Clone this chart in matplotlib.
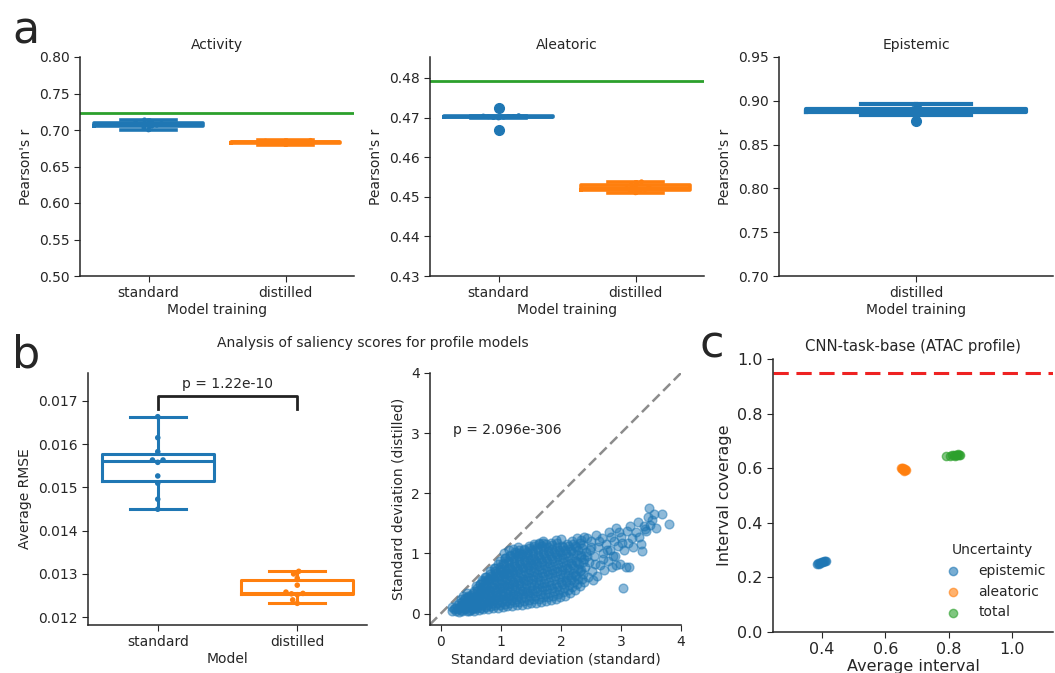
import warnings
warnings.filterwarnings("ignore")
import matplotlib
matplotlib.use("Agg")
import matplotlib.pyplot as plt
import seaborn as sns
import numpy as np

# ---------------- data ----------------
training_cats = ["standard", "distilled"]
activity_standard = [0.7001, 0.7030, 0.7052, 0.7065, 0.7078, 0.7083, 0.7090, 0.7102, 0.7120, 0.7139]
activity_distilled = [0.6800, 0.6815, 0.6822, 0.6828, 0.6832, 0.6835, 0.6838, 0.6842, 0.6850, 0.6858]
activity_reference = 0.7239

aleatoric_standard = [0.4668, 0.4699, 0.4700, 0.4701, 0.4702, 0.4703, 0.4703, 0.4704, 0.4705, 0.4723]
aleatoric_distilled = [0.4510, 0.4513, 0.4516, 0.4518, 0.4521, 0.4523, 0.4526, 0.4530, 0.4535, 0.4538]
aleatoric_reference = 0.4792

epistemic_cats = ["distilled"]
epistemic_distilled = [0.8770, 0.8840, 0.8868, 0.8874, 0.8886, 0.8892, 0.8900, 0.8910, 0.8948, 0.8958]

rmse_cats = ["standard", "distilled"]
rmse_standard = [0.014494, 0.014725, 0.015094, 0.015262, 0.015577, 0.015631, 0.015631, 0.015823, 0.016146, 0.016631]
rmse_distilled = [0.01232, 0.01240, 0.01252, 0.01254, 0.01255, 0.01258, 0.01274, 0.01290, 0.01300, 0.01306]
rmse_pvalue = "p = 1.22e-10"

sd_standard = [
    0.18, 0.22, 0.19, 0.26, 0.24, 0.27, 0.31, 0.29, 0.32, 0.30,
    0.35, 0.38, 0.36, 0.39, 0.37, 0.43, 0.41, 0.44, 0.42, 0.45, 0.43,
    0.49, 0.47, 0.50, 0.48, 0.51, 0.56, 0.54, 0.57, 0.55, 0.58, 0.56,
    0.63, 0.61, 0.64, 0.62, 0.65, 0.60, 0.66,
    0.71, 0.69, 0.72, 0.70, 0.73, 0.68, 0.71, 0.74,
    0.79, 0.77, 0.80, 0.78, 0.81, 0.76, 0.79, 0.82,
    0.87, 0.85, 0.88, 0.86, 0.89, 0.84, 0.87, 0.90, 0.88,
    0.95, 0.93, 0.96, 0.94, 0.97, 0.92, 0.95, 0.98, 0.96,
    1.03, 1.01, 1.04, 1.02, 1.05, 1.00, 1.03, 1.06, 1.04, 1.07,
    1.11, 1.09, 1.12, 1.10, 1.13, 1.08, 1.11, 1.14, 1.12, 1.15, 1.13,
    1.19, 1.17, 1.20, 1.18, 1.21, 1.16, 1.19, 1.22, 1.20, 1.23,
    1.27, 1.25, 1.28, 1.26, 1.29, 1.24, 1.27, 1.30, 1.28, 1.31,
    1.35, 1.33, 1.36, 1.34, 1.37, 1.32, 1.35, 1.38, 1.36, 1.39,
    1.43, 1.41, 1.44, 1.42, 1.45, 1.40, 1.43, 1.46, 1.44, 1.47,
    1.51, 1.49, 1.52, 1.50, 1.53, 1.48, 1.51, 1.54, 1.52, 1.55,
    1.59, 1.57, 1.60, 1.58, 1.61, 1.56, 1.59, 1.62, 1.60, 1.63,
    1.67, 1.65, 1.68, 1.66, 1.69, 1.64, 1.67, 1.70, 1.68, 1.71,
    1.75, 1.73, 1.76, 1.74, 1.77, 1.72, 1.75, 1.78, 1.76,
    1.83, 1.81, 1.84, 1.82, 1.85, 1.80, 1.83, 1.86, 1.84,
    1.91, 1.89, 1.92, 1.90, 1.93, 1.88, 1.91, 1.94, 1.92,
    1.99, 1.97, 2.00, 1.98, 2.01, 1.96, 1.99, 2.02, 2.00,
    2.07, 2.05, 2.08, 2.06, 2.09, 2.04, 2.07, 2.10,
    2.15, 2.13, 2.16, 2.14, 2.17, 2.12, 2.15, 2.18,
    2.23, 2.21, 2.24, 2.22, 2.25, 2.20, 2.23, 2.26,
    2.31, 2.29, 2.32, 2.30, 2.33, 2.28, 2.31,
    2.39, 2.37, 2.40, 2.38, 2.41, 2.36, 2.39,
    2.45, 2.46, 2.48, 2.50, 2.52, 2.55, 2.58, 2.60, 2.62, 2.65,
    2.68, 2.70, 2.72, 2.75, 2.78, 2.80, 2.82, 2.85, 2.88, 2.90,
    2.92, 2.95, 2.98, 3.00, 3.04, 3.05, 3.08, 3.10, 3.12, 3.15,
    3.18, 3.20, 3.25, 3.30, 3.33, 3.35, 3.38, 3.42, 3.45, 3.46,
    3.48, 3.52, 3.55, 3.58, 3.68, 3.80,
    0.34, 0.32, 0.35, 0.33,
    0.41, 0.39, 0.42, 0.40,
    0.47, 0.45, 0.48, 0.46,
    0.53, 0.51, 0.54, 0.52, 0.53,
    0.60, 0.58, 0.61, 0.59, 0.60, 0.58,
    0.67, 0.65, 0.68, 0.66, 0.67, 0.65, 0.68,
    0.75, 0.73, 0.76, 0.74, 0.75, 0.73, 0.76,
    0.83, 0.81, 0.84, 0.82, 0.83, 0.81, 0.84, 0.82,
    0.91, 0.89, 0.92, 0.90, 0.91, 0.89, 0.92, 0.90,
    0.99, 0.97, 1.00, 0.98, 0.99, 0.97, 1.00, 0.98, 0.99,
    1.07, 1.05, 1.08, 1.06, 1.07, 1.05, 1.08, 1.06, 1.07, 1.05,
    1.15, 1.13, 1.16, 1.14, 1.15, 1.13, 1.16, 1.14, 1.15,
    1.23, 1.21, 1.24, 1.22, 1.23, 1.21, 1.24, 1.22, 1.23, 1.21,
    1.31, 1.29, 1.32, 1.30, 1.31, 1.29, 1.32, 1.30, 1.31, 1.29,
    1.39, 1.37, 1.40, 1.38, 1.39, 1.37, 1.40, 1.38, 1.39,
    1.47, 1.45, 1.48, 1.46, 1.47, 1.45, 1.48, 1.46, 1.47,
    1.55, 1.53, 1.56, 1.54, 1.55, 1.53, 1.56, 1.54, 1.55,
    1.63, 1.61, 1.64, 1.62, 1.63, 1.61, 1.64, 1.62, 1.63,
    1.71, 1.69, 1.72, 1.70, 1.71, 1.69, 1.72, 1.70, 1.71,
    1.79, 1.77, 1.80, 1.78, 1.79, 1.77, 1.80, 1.78,
    1.87, 1.85, 1.88, 1.86, 1.87, 1.85, 1.88, 1.86,
    1.95, 1.93, 1.96, 1.94, 1.95, 1.93, 1.96, 1.94,
    2.03, 2.01, 2.04, 2.02, 2.03, 2.01, 2.04,
    2.11, 2.09, 2.12, 2.10, 2.11, 2.09, 2.12,
    2.19, 2.17, 2.20, 2.18, 2.19, 2.17, 2.20,
    2.27, 2.25, 2.28, 2.26, 2.27, 2.25,
    2.35, 2.33, 2.36, 2.34, 2.35, 2.33,
    2.44, 2.50, 2.56, 2.63, 2.70, 2.76, 2.84, 2.86, 2.96, 3.02,
    2.44, 2.53, 3.13, 3.28, 3.40, 2.91,
]
sd_distilled = [
    0.04, 0.08, 0.11, 0.05, 0.09, 0.14, 0.03, 0.07, 0.12, 0.17,
    0.05, 0.10, 0.15, 0.22, 0.30, 0.04, 0.09, 0.14, 0.20, 0.27, 0.34,
    0.06, 0.11, 0.17, 0.24, 0.31, 0.05, 0.10, 0.16, 0.23, 0.30, 0.38,
    0.06, 0.12, 0.19, 0.26, 0.34, 0.42, 0.50,
    0.07, 0.14, 0.21, 0.29, 0.37, 0.45, 0.54, 0.60,
    0.08, 0.15, 0.23, 0.31, 0.40, 0.48, 0.57, 0.66,
    0.09, 0.17, 0.25, 0.33, 0.42, 0.51, 0.60, 0.70, 0.76,
    0.10, 0.18, 0.27, 0.36, 0.45, 0.54, 0.63, 0.72, 0.82,
    0.11, 0.20, 0.29, 0.38, 0.47, 0.56, 0.65, 0.74, 0.84, 0.92,
    0.12, 0.21, 0.30, 0.40, 0.49, 0.58, 0.68, 0.78, 0.88, 0.98, 1.05,
    0.13, 0.23, 0.33, 0.43, 0.52, 0.62, 0.72, 0.82, 0.92, 1.02,
    0.14, 0.24, 0.35, 0.45, 0.55, 0.65, 0.75, 0.85, 0.95, 1.05,
    0.15, 0.26, 0.37, 0.47, 0.58, 0.68, 0.78, 0.89, 0.99, 1.08,
    0.16, 0.27, 0.38, 0.49, 0.60, 0.71, 0.81, 0.92, 1.02, 1.12,
    0.17, 0.29, 0.40, 0.51, 0.62, 0.73, 0.84, 0.95, 1.05, 1.15,
    0.18, 0.30, 0.42, 0.53, 0.65, 0.76, 0.87, 0.98, 1.09, 1.17,
    0.20, 0.32, 0.44, 0.56, 0.67, 0.79, 0.90, 1.01, 1.12, 1.20,
    0.21, 0.33, 0.46, 0.58, 0.70, 0.81, 0.93, 1.04, 1.15,
    0.23, 0.35, 0.48, 0.60, 0.72, 0.84, 0.96, 1.07, 1.18,
    0.25, 0.38, 0.50, 0.62, 0.75, 0.87, 0.99, 1.10, 1.22,
    0.27, 0.40, 0.53, 0.65, 0.77, 0.90, 1.02, 1.13, 1.24,
    0.30, 0.43, 0.56, 0.68, 0.80, 0.93, 1.05, 1.16,
    0.34, 0.47, 0.60, 0.72, 0.84, 0.96, 1.08, 1.20,
    0.40, 0.52, 0.64, 0.76, 0.88, 1.00, 1.12, 1.25,
    0.46, 0.58, 0.70, 0.82, 0.94, 1.06, 1.18,
    0.52, 0.66, 0.78, 0.90, 1.02, 1.14, 1.28,
    0.60, 0.85, 1.05, 1.20, 0.70, 0.95, 1.30, 0.62, 1.10, 0.80,
    1.25, 1.00, 0.72, 1.15, 0.88, 1.35, 1.05, 0.78, 1.20, 0.95,
    1.42, 1.12, 0.82, 1.28, 0.43, 1.05, 0.78, 1.38, 1.18, 1.45,
    1.25, 1.10, 1.35, 1.28, 1.15, 1.04, 1.45, 1.38, 1.60, 1.75,
    1.48, 1.55, 1.65, 1.42, 1.66, 1.49,
    0.06, 0.10, 0.19, 0.25,
    0.07, 0.12, 0.18, 0.26,
    0.05, 0.13, 0.21, 0.29,
    0.08, 0.14, 0.21, 0.28, 0.35,
    0.09, 0.15, 0.22, 0.30, 0.38, 0.46,
    0.10, 0.17, 0.25, 0.33, 0.41, 0.49, 0.56,
    0.11, 0.19, 0.27, 0.35, 0.44, 0.52, 0.61,
    0.12, 0.20, 0.29, 0.37, 0.46, 0.55, 0.63, 0.71,
    0.14, 0.22, 0.31, 0.40, 0.49, 0.58, 0.67, 0.76,
    0.15, 0.24, 0.33, 0.42, 0.51, 0.60, 0.69, 0.78, 0.87,
    0.16, 0.25, 0.35, 0.44, 0.54, 0.63, 0.73, 0.83, 0.93, 1.01,
    0.17, 0.27, 0.37, 0.46, 0.56, 0.66, 0.76, 0.86, 0.96,
    0.19, 0.29, 0.39, 0.49, 0.59, 0.69, 0.79, 0.89, 0.99, 1.08,
    0.20, 0.30, 0.41, 0.51, 0.61, 0.72, 0.82, 0.92, 1.01, 1.10,
    0.21, 0.32, 0.43, 0.54, 0.64, 0.75, 0.85, 0.96, 1.06,
    0.22, 0.34, 0.45, 0.56, 0.67, 0.78, 0.89, 0.99, 1.09,
    0.24, 0.35, 0.47, 0.58, 0.69, 0.80, 0.91, 1.02, 1.12,
    0.25, 0.37, 0.49, 0.60, 0.72, 0.83, 0.94, 1.05, 1.15,
    0.27, 0.39, 0.51, 0.63, 0.74, 0.86, 0.97, 1.08, 1.17,
    0.28, 0.41, 0.53, 0.65, 0.77, 0.88, 1.00, 1.11,
    0.30, 0.43, 0.55, 0.67, 0.79, 0.91, 1.03, 1.14,
    0.33, 0.45, 0.58, 0.70, 0.82, 0.94, 1.06, 1.17,
    0.36, 0.49, 0.61, 0.73, 0.85, 0.98, 1.10,
    0.39, 0.52, 0.64, 0.76, 0.88, 1.01, 1.13,
    0.44, 0.56, 0.68, 0.80, 0.92, 1.04, 1.16,
    0.50, 0.62, 0.74, 0.86, 0.98, 1.10,
    0.58, 0.72, 0.85, 0.97, 1.09, 1.22,
    0.95, 1.10, 0.82, 1.20, 0.90, 1.05, 1.28, 0.96, 1.36, 1.18,
    1.25, 0.55, 0.77, 1.52, 1.40, 0.81,
]
sd_pvalue = "p = 2.096e-306"

unc_labels = ["epistemic", "aleatoric", "total"]
epistemic_interval = [0.383, 0.387, 0.391, 0.394, 0.398, 0.400, 0.403, 0.406, 0.409, 0.412]
epistemic_coverage = [0.249, 0.252, 0.250, 0.254, 0.256, 0.255, 0.258, 0.260, 0.259, 0.261]
aleatoric_interval = [0.648, 0.652, 0.655, 0.657, 0.659, 0.661, 0.663, 0.665, 0.660, 0.654]
aleatoric_coverage = [0.600, 0.598, 0.596, 0.601, 0.594, 0.597, 0.592, 0.595, 0.590, 0.599]
total_interval = [0.792, 0.805, 0.812, 0.816, 0.820, 0.823, 0.826, 0.829, 0.832, 0.835]
total_coverage = [0.645, 0.643, 0.647, 0.649, 0.646, 0.650, 0.648, 0.651, 0.649, 0.650]
target_coverage = 0.95

# ---------------- style ----------------
BLUE, ORANGE, GREEN = "#1f77b4", "#ff7f0e", "#2ca02c"
TXT = "#262626"
plt.rcParams.update({
    "font.family": ["DejaVu Sans"],
    "font.size": 10,
    "text.color": TXT,
    "axes.labelcolor": TXT,
    "axes.edgecolor": TXT,
    "axes.linewidth": 1.1,
    "xtick.color": TXT,
    "ytick.color": TXT,
    "xtick.labelsize": 10,
    "ytick.labelsize": 10,
    "xtick.major.size": 4,
    "ytick.major.size": 4,
    "axes.spines.top": False,
    "axes.spines.right": False,
})

W, H = 1055, 673
fig = plt.figure(figsize=(W / 100, H / 100), dpi=100)


def px_axes(left, top, right, bottom):
    return fig.add_axes([left / W, 1 - bottom / H, (right - left) / W, (bottom - top) / H])


def box_swarm(ax, cats, groups, colors, lw, flier_ms, pt_size):
    for i, (vals, c) in enumerate(zip(groups, colors)):
        ax.boxplot([vals], positions=[i], widths=0.8, manage_ticks=False,
                   boxprops=dict(color=c, lw=lw), whiskerprops=dict(color=c, lw=lw),
                   capprops=dict(color=c, lw=lw), medianprops=dict(color=c, lw=lw),
                   flierprops=dict(marker="o", markerfacecolor=c, markeredgecolor=c,
                                   markersize=flier_ms))
    xs, ys = [], []
    for cat, vals in zip(cats, groups):
        xs += [cat] * len(vals)
        ys += list(vals)
    pal = dict(zip(cats, colors))
    sns.swarmplot(x=xs, y=ys, hue=xs, palette=pal, order=cats, hue_order=cats,
                  size=pt_size, ax=ax, legend=False)
    for coll in ax.collections:
        coll.set_zorder(4)
    ax.set_xlim(-0.5, len(cats) - 0.5)
    ax.set_xticks(range(len(cats)))
    ax.set_xticklabels(cats)


# ---- panel a ----
ax1 = px_axes(80, 57, 354, 276)
box_swarm(ax1, training_cats, [activity_standard, activity_distilled], [BLUE, ORANGE], 2.6, 6, 3.5)
ax1.axhline(activity_reference, color=GREEN, lw=2)
ax1.set_ylim(0.5, 0.8)
ax1.set_yticks(np.arange(0.50, 0.801, 0.05))
ax1.set_yticklabels([f"{v:.2f}" for v in np.arange(0.50, 0.801, 0.05)])
ax1.set_title("Activity", fontsize=10)
ax1.set_ylabel("Pearson's r")
ax1.set_xlabel("Model training", labelpad=2)

ax2 = px_axes(430, 57, 704, 276)
box_swarm(ax2, training_cats, [aleatoric_standard, aleatoric_distilled], [BLUE, ORANGE], 2.6, 7, 3.5)
ax2.axhline(aleatoric_reference, color=GREEN, lw=2)
ax2.set_ylim(0.43, 0.4853)
ax2.set_yticks(np.arange(0.43, 0.4801, 0.01))
ax2.set_yticklabels([f"{v:.2f}" for v in np.arange(0.43, 0.4801, 0.01)])
ax2.set_title("Aleatoric", fontsize=10)
ax2.set_ylabel("Pearson's r")
ax2.set_xlabel("Model training", labelpad=2)

ax3 = px_axes(779, 57, 1053, 276)
box_swarm(ax3, epistemic_cats, [epistemic_distilled], [BLUE], 3.0, 7, 3.5)
ax3.set_ylim(0.70, 0.95)
ax3.set_yticks(np.arange(0.70, 0.951, 0.05))
ax3.set_yticklabels([f"{v:.2f}" for v in np.arange(0.70, 0.951, 0.05)])
ax3.set_title("Epistemic", fontsize=10)
ax3.set_ylabel("Pearson's r")
ax3.set_xlabel("Model training", labelpad=2)

# ---- panel b ----
ax4 = px_axes(88, 373, 367, 625)
box_swarm(ax4, rmse_cats, [rmse_standard, rmse_distilled], [BLUE, ORANGE], 2.2, 5, 4)
ax4.set_ylim(0.01182, 0.01764)
ax4.set_yticks([0.012, 0.013, 0.014, 0.015, 0.016, 0.017])
ax4.set_yticklabels(["0.012", "0.013", "0.014", "0.015", "0.016", "0.017"])
ax4.set_ylabel("Average RMSE")
ax4.set_xlabel("Model", labelpad=2)
ax4.plot([0, 0, 1, 1], [0.016808, 0.017115, 0.017115, 0.016808], color="#222222", lw=2)
ax4.text(0.5, 0.01722, rmse_pvalue, ha="center", va="bottom", fontsize=10)

ax5 = px_axes(430, 373, 681, 625)
ax5.scatter(sd_standard, sd_distilled, s=40, color=BLUE, alpha=0.5, zorder=3)
ax5.plot([-0.18, 4.0], [-0.18, 4.0], color="#8c8c8c", lw=1.8, dashes=(4, 2), zorder=2)
ax5.set_xlim(-0.18, 4.0)
ax5.set_ylim(-0.19, 4.0)
ax5.set_xticks([0, 1, 2, 3, 4])
ax5.set_yticks([0, 1, 2, 3, 4])
ax5.text(0.21, 3.05, sd_pvalue, ha="left", va="center", fontsize=10)
ax5.set_xlabel("Standard deviation (standard)", labelpad=2)
ax5.set_ylabel("Standard deviation (distilled)")

fig.text(373 / W, 1 - 343 / H, "Analysis of saliency scores for profile models",
         ha="center", va="center", fontsize=10)

# ---- panel c ----
ax6 = px_axes(773, 359, 1053, 632)
for xv, yv, c, lab in zip([epistemic_interval, aleatoric_interval, total_interval],
                          [epistemic_coverage, aleatoric_coverage, total_coverage],
                          [BLUE, ORANGE, GREEN], unc_labels):
    ax6.scatter(xv, yv, s=36, color=c, alpha=0.6, label=lab, zorder=3)
ax6.axhline(target_coverage, color="#ee2222", lw=2.2, dashes=(5, 2.5))
ax6.set_xlim(0.245, 1.13)
ax6.set_ylim(0.0, 1.0)
ax6.set_xticks([0.4, 0.6, 0.8, 1.0])
ax6.set_yticks([0.0, 0.2, 0.4, 0.6, 0.8, 1.0])
ax6.tick_params(labelsize=11.5)
ax6.set_xlabel("Average interval", fontsize=11.5, labelpad=1)
ax6.set_ylabel("Interval coverage", fontsize=11.5)
ax6.set_title("CNN-task-base (ATAC profile)", fontsize=10.7)
ax6.legend(title="Uncertainty", frameon=False, loc="lower right",
           bbox_to_anchor=(1.018, 0.0), fontsize=10, title_fontsize=10)

# ---- panel letters ----
fig.text(12 / W, 1 - 44 / H, "a", fontsize=32, va="baseline", ha="left")
fig.text(12 / W, 1 - 368 / H, "b", fontsize=32, va="baseline", ha="left")
fig.text(700 / W, 1 - 357 / H, "c", fontsize=32, va="baseline", ha="left")

fig.savefig("out.png", dpi=100)
